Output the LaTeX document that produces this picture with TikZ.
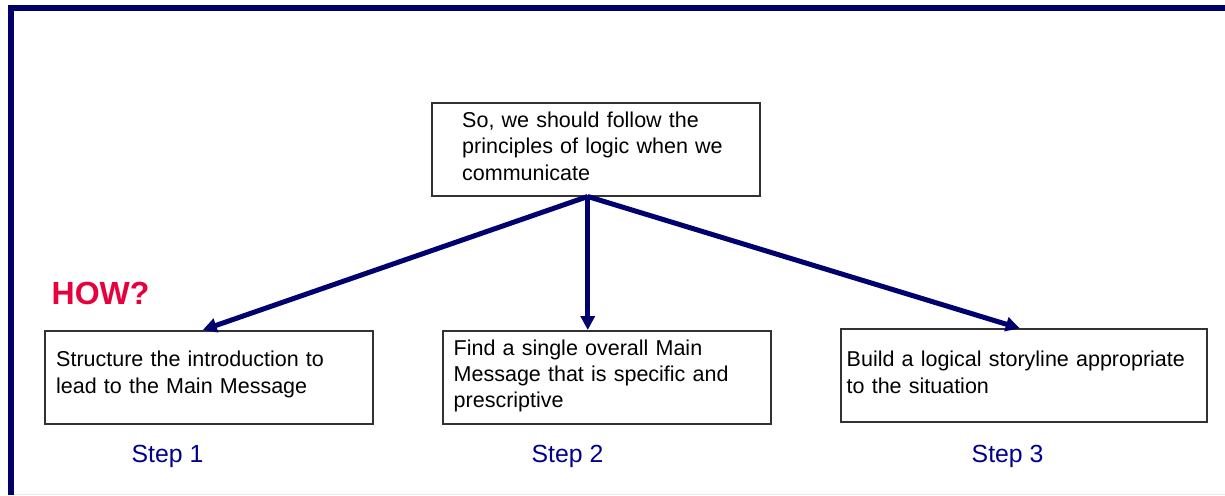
\documentclass[tikz,border=0pt]{standalone}
\usepackage{fontspec}
\setmainfont{Liberation Sans}
\usetikzlibrary{arrows.meta}
\definecolor{framenavy}{RGB}{0,0,104}
\definecolor{arrownavy}{RGB}{0,0,110}
\definecolor{stepnavy}{RGB}{0,0,140}
\definecolor{howred}{RGB}{232,0,60}
\definecolor{boxline}{RGB}{50,50,50}
\tikzset{
  frameline/.style={draw=framenavy, line width=6pt, line join=miter},
  msgbox/.style={draw=boxline, line width=1.5pt, fill=white, inner sep=0pt,
                 anchor=north west},
  msgtext/.style={anchor=base west, inner sep=0pt, text width=#1, align=left,
                  font=\fontsize{21.5}{26.3}\selectfont},
  steplabel/.style={anchor=base west, inner sep=0pt, text=stepnavy,
                    font=\fontsize{24.8}{28}\selectfont},
  howlabel/.style={anchor=base west, inner sep=0pt, text=howred,
                   font=\bfseries\fontsize{32}{36}\selectfont},
  branch/.style={draw=arrownavy, line width=5pt,
                 -{Triangle[length=14pt,width=14pt]}},
}
\begin{document}
\begin{tikzpicture}[x=1pt,y=-1pt]
  \useasboundingbox (0,0) rectangle (1225,495);

  % page frame
  \draw[frameline] (11,495) -- (11,8) -- (1225,8);
  \draw[black!8, line width=1pt] (14,494) -- (1225,494);

  % main statement
  \node[msgbox, minimum width=328pt, minimum height=93pt] (top) at (431,102) {};
  \node[msgtext=290pt] (toptext) at (462,127.5)
    {So, we should follow the\\principles of logic when we\\communicate};

  % the three steps
  \node[msgbox, minimum width=328pt, minimum height=93pt] (box1) at (44,330) {};
  \node[msgtext=310pt] (text1) at (56,366.7)
    {Structure the introduction to\\lead to the Main Message};

  \node[msgbox, minimum width=328pt, minimum height=93pt] (box2) at (442,330) {};
  \node[msgtext=310pt] (text2) at (453.5,355.2)
    {Find a single overall Main\\Message that is specific and\\prescriptive};

  \node[msgbox, minimum width=366pt, minimum height=93pt] (box3) at (840,328.3) {};
  \node[msgtext=360pt] (text3) at (846.5,366.7)
    {Build a logical storyline appropriate\\to the situation};

  \node[howlabel] (how) at (51.5,304.3) {HOW?};

  \node[steplabel] (step1) at (131.5,462.5) {Step 1};
  \node[steplabel] (step2) at (531.5,462.5) {Step 2};
  \node[steplabel] (step3) at (971.5,462.5) {Step 3};

  % branching arrows
  \coordinate (hub) at ([xshift=-8pt]top.south);
  \draw[branch] (hub) -- ([xshift=-6pt]box1.north);
  \draw[branch] (hub) -- ([xshift=-19pt]box2.north);
  \draw[branch] (hub) -- ([xshift=-4pt]box3.north);
\end{tikzpicture}
\end{document}
